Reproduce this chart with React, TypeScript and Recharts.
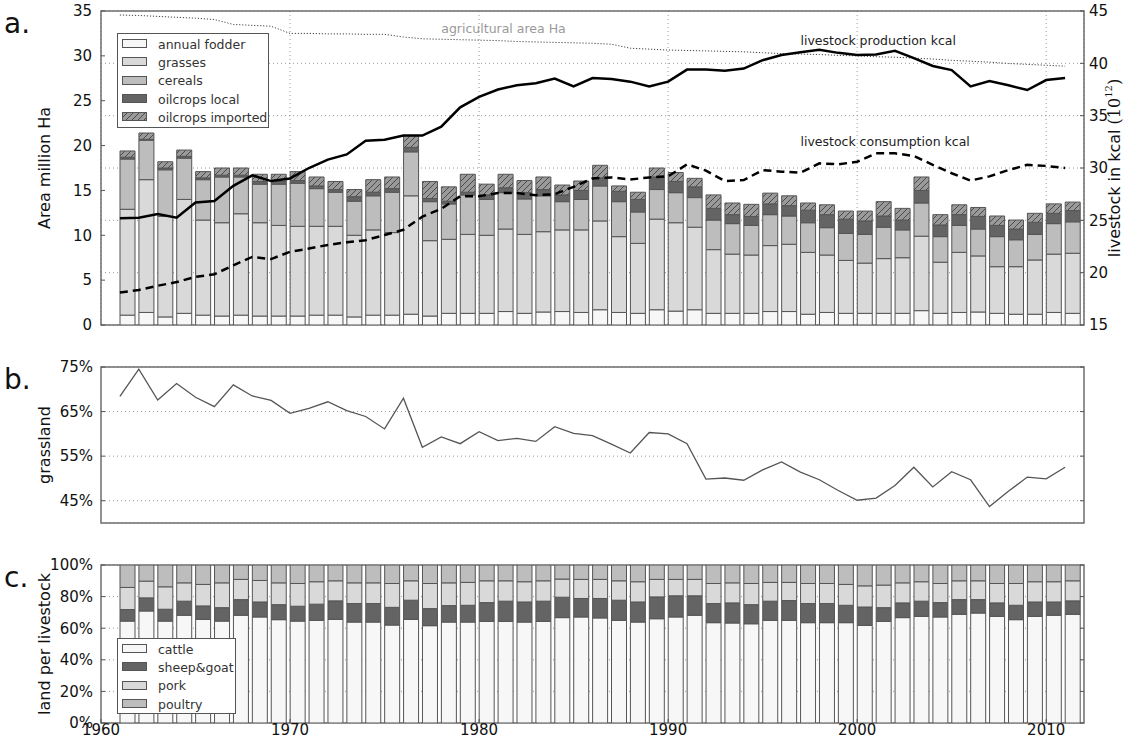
import React from 'react';
import { ComposedChart, Bar, Line, XAxis, YAxis, CartesianGrid, ReferenceArea, ReferenceDot } from 'recharts';

// ---------------- data ----------------
const years = [
  1961, 1962, 1963, 1964, 1965, 1966, 1967, 1968, 1969, 1970,
  1971, 1972, 1973, 1974, 1975, 1976, 1977, 1978, 1979, 1980,
  1981, 1982, 1983, 1984, 1985, 1986, 1987, 1988, 1989, 1990,
  1991, 1992, 1993, 1994, 1995, 1996, 1997, 1998, 1999, 2000,
  2001, 2002, 2003, 2004, 2005, 2006, 2007, 2008, 2009, 2010,
  2011,
];

// panel a (million Ha)
const annualFodder = [
  1.1, 1.4, 0.9, 1.3, 1.1, 1.0, 1.1, 1.0, 1.0, 1.0,
  1.1, 1.1, 0.9, 1.1, 1.1, 1.2, 1.0, 1.3, 1.3, 1.3,
  1.5, 1.3, 1.45, 1.5, 1.4, 1.7, 1.4, 1.3, 1.7, 1.55,
  1.7, 1.3, 1.3, 1.3, 1.5, 1.5, 1.2, 1.4, 1.3, 1.3,
  1.3, 1.3, 1.6, 1.3, 1.4, 1.45, 1.3, 1.2, 1.2, 1.4,
  1.3,
];
const grasses = [
  11.8, 14.8, 11.2, 12.7, 10.6, 10.4, 11.3, 10.4, 10.1, 10.0,
  9.9, 9.9, 9.1, 9.5, 9.2, 13.2, 8.4, 8.25, 8.8, 8.7,
  9.2, 8.8, 8.95, 9.1, 9.2, 9.9, 8.45, 7.8, 10.1, 9.85,
  9.2, 7.1, 6.6, 6.5, 7.35, 7.5, 6.9, 6.4, 5.9, 5.6,
  6.1, 6.2, 8.3, 5.7, 6.7, 6.25, 5.2, 5.3, 6.05, 6.5,
  6.7,
];
const cereals = [
  5.6, 4.4, 5.2, 4.6, 4.5, 5.1, 4.1, 4.3, 4.6, 4.8,
  4.2, 3.8, 3.8, 3.8, 4.5, 4.9, 4.35, 3.95, 4.4, 4.0,
  4.05, 3.95, 4.0, 3.15, 3.4, 3.9, 3.9, 3.5, 3.3, 3.35,
  3.3, 3.3, 3.4, 3.3, 3.45, 3.15, 3.3, 3.05, 3.0, 3.2,
  3.5, 3.1, 3.7, 2.85, 3.0, 3.0, 3.35, 3.0, 2.85, 3.4,
  3.5,
];
const oilcropsLocal = [
  0.2, 0.1, 0.2, 0.2, 0.2, 0.2, 0.2, 0.3, 0.3, 0.3,
  0.3, 0.3, 0.5, 0.4, 0.4, 0.5, 0.35, 0.3, 0.3, 0.5,
  0.55, 0.7, 0.7, 0.75, 1.0, 0.9, 1.15, 1.4, 1.4, 1.25,
  1.2, 1.3, 1.0, 1.0, 1.2, 1.15, 1.4, 1.45, 1.6, 1.5,
  1.25, 1.1, 1.4, 1.3, 1.2, 1.4, 1.25, 1.2, 1.35, 1.15,
  1.25,
];
const oilcropsImported = [
  0.7, 0.7, 0.7, 0.7, 0.7, 0.8, 0.8, 0.8, 0.8, 1.0,
  1.0, 0.9, 0.8, 1.4, 1.3, 1.3, 1.9, 1.6, 2.0, 1.2,
  1.5, 1.35, 1.4, 1.1, 1.05, 1.4, 0.6, 0.8, 1.0, 1.0,
  0.95, 1.5, 1.3, 1.35, 1.2, 1.1, 0.8, 1.1, 0.9, 1.1,
  1.6, 1.3, 1.5, 1.15, 1.1, 1.0, 1.05, 1.0, 1.0, 1.05,
  0.95,
];
const agriculturalArea = [
  34.55, 34.5, 34.4, 34.3, 34.2, 34.05, 33.5, 33.4, 33.3, 32.5,
  32.5, 32.45, 32.45, 32.4, 32.4, 32.1, 31.9, 31.85, 31.8, 31.75,
  31.7, 31.6, 31.55, 31.5, 31.45, 31.4, 31.3, 30.85, 30.75, 30.65,
  30.6, 30.55, 30.5, 30.45, 30.35, 30.25, 30.2, 30.15, 30.05, 30.0,
  29.9, 29.85, 29.75, 29.65, 29.5, 29.4, 29.3, 29.15, 29.05, 28.95,
  28.85,
];
// right axis (10^12 kcal)
const livestockProduction = [
  25.2, 25.25, 25.6, 25.25, 26.7, 26.85, 28.3, 29.3, 28.75, 29.0,
  30.0, 30.8, 31.3, 32.6, 32.7, 33.1, 33.1, 33.95, 35.8, 36.8,
  37.5, 37.9, 38.1, 38.55, 37.8, 38.6, 38.5, 38.25, 37.8, 38.25,
  39.4, 39.4, 39.3, 39.5, 40.3, 40.8, 41.05, 41.3, 41.0, 40.8,
  40.85, 41.2, 40.5, 39.75, 39.35, 37.8, 38.3, 37.9, 37.45, 38.4,
  38.6,
];
const livestockConsumption = [
  18.1, 18.35, 18.75, 19.1, 19.6, 19.85, 20.7, 21.5, 21.3, 22.0,
  22.3, 22.65, 22.9, 23.1, 23.6, 24.1, 25.35, 26.1, 27.3, 27.3,
  27.6, 27.6, 27.4, 27.5, 28.2, 29.0, 29.1, 28.9, 29.1, 29.2,
  30.35, 29.75, 28.75, 28.85, 29.8, 29.65, 29.55, 30.45, 30.35, 30.6,
  31.4, 31.4, 31.15, 30.3, 29.5, 28.8, 29.2, 29.8, 30.3, 30.2,
  30.0,
];

// panel b (%)
const grassland = [
  68.4, 74.5, 67.6, 71.3, 68.2, 66.1, 71.0, 68.5, 67.5, 64.6,
  65.7, 67.2, 65.2, 63.9, 61.1, 68.0, 57.0, 59.3, 57.8, 60.5,
  58.5, 59.0, 58.3, 61.6, 60.1, 59.6, 57.7, 55.7, 60.3, 60.0,
  57.8, 49.85, 50.1, 49.6, 51.9, 53.7, 51.4, 49.7, 47.3, 45.1,
  45.6, 48.4, 52.5, 48.1, 51.5, 49.7, 43.7, 47.1, 50.3, 49.9,
  52.5,
];

// panel c (%)
const cattle = [
  64.5, 70.9, 64.5, 68.2, 65.6, 64.5, 68.2, 67.1, 65.4, 64.5,
  65.0, 65.6, 63.9, 63.9, 62.0, 65.6, 61.6, 63.9, 63.9, 64.3,
  64.3, 63.9, 64.3, 66.7, 67.1, 66.5, 65.0, 63.9, 66.0, 67.1,
  68.2, 63.5, 63.3, 62.8, 65.0, 65.0, 63.5, 63.5, 63.5, 61.8,
  64.3, 66.7, 67.5, 67.1, 68.8, 69.6, 67.5, 65.4, 67.5, 68.2,
  68.8,
];
const sheepGoat = [
  7.3, 8.3, 7.5, 8.9, 8.5, 8.5, 9.9, 9.5, 9.5, 9.4,
  10.2, 11.7, 11.7, 11.7, 11.2, 12.1, 10.8, 10.4, 10.6, 11.9,
  12.8, 12.7, 12.8, 12.9, 11.7, 12.3, 12.7, 12.7, 13.8, 13.4,
  12.3, 12.1, 12.7, 12.1, 12.1, 12.5, 12.1, 12.1, 11.0, 11.6,
  8.7, 9.3, 9.6, 9.1, 9.3, 8.5, 8.5, 9.1, 9.1, 8.4,
  8.5,
];
const pork = [
  14.0, 10.6, 14.2, 11.6, 13.6, 15.7, 12.8, 13.6, 13.8, 14.4,
  14.2, 12.7, 13.1, 13.1, 15.1, 12.3, 15.9, 14.4, 14.5, 13.8,
  12.9, 12.8, 12.9, 11.5, 12.1, 12.1, 12.3, 12.8, 11.1, 10.4,
  10.4, 12.7, 12.7, 13.4, 11.9, 11.5, 12.7, 12.7, 13.2, 13.4,
  14.3, 12.7, 12.3, 12.1, 11.9, 11.9, 12.3, 13.8, 12.8, 12.8,
  12.7,
];
const poultry = [
  14.2, 10.2, 13.8, 11.3, 12.3, 11.3, 9.1, 9.8, 11.3, 11.7,
  10.6, 10.0, 11.3, 11.3, 11.7, 10.0, 11.7, 11.3, 11.0, 10.0,
  10.0, 10.6, 10.0, 8.9, 9.1, 9.1, 10.0, 10.6, 9.1, 9.1,
  9.1, 11.7, 11.3, 11.7, 11.0, 11.0, 11.7, 11.7, 12.3, 13.2,
  12.7, 11.3, 10.6, 11.7, 10.0, 10.0, 11.7, 11.7, 10.6, 10.6,
  10.0,
];

const decadeTicks = [1960, 1970, 1980, 1990, 2000, 2010];
const areaTicks = [0, 5, 10, 15, 20, 25, 30, 35];
const kcalTicks = [15, 20, 25, 30, 35, 40, 45];
const grassTicks = [45, 55, 65, 75];
const shareTicks = [0, 20, 40, 60, 80, 100];

// ---------------- styling ----------------
const FONT = '"DejaVu Sans", sans-serif';
const X_DOMAIN: [number, number] = [1960, 2012];
const BAR_OFFSET = 0.4; // edge-aligned bars of width 0.8
const BAR_SIZE = 15;
const FRAME = '#6e6e6e';
const GRID = '#9a9a9a';
const EDGE = '#555';
const tickStyle = { fontSize: 15, fill: '#111', fontFamily: FONT };
const tickLineStyle = { stroke: '#555' };
const NoTick = () => <g />;

const aSeries = [
  { key: 'annualFodder', name: 'annual fodder', fill: '#f7f7f7' },
  { key: 'grasses', name: 'grasses', fill: '#d9d9d9' },
  { key: 'cereals', name: 'cereals', fill: '#bdbdbd' },
  { key: 'oilLocal', name: 'oilcrops local', fill: '#646464' },
  { key: 'oilImported', name: 'oilcrops imported', fill: 'url(#hatch)' },
];
const cSeries = [
  { key: 'cattle', name: 'cattle', fill: '#f7f7f7' },
  { key: 'sheepGoat', name: 'sheep&goat', fill: '#646464' },
  { key: 'pork', name: 'pork', fill: '#d9d9d9' },
  { key: 'poultry', name: 'poultry', fill: '#bdbdbd' },
];

const panelAData = years.map((year, i) => ({
  year,
  bx: year + BAR_OFFSET,
  annualFodder: annualFodder[i],
  grasses: grasses[i],
  cereals: cereals[i],
  oilLocal: oilcropsLocal[i],
  oilImported: oilcropsImported[i],
  agri: agriculturalArea[i],
  production: livestockProduction[i],
  consumption: livestockConsumption[i],
}));
const panelBData = years.map((year, i) => ({ year, grassland: grassland[i] }));
const panelCData = years.map((year, i) => ({
  year,
  bx: year + BAR_OFFSET,
  cattle: cattle[i],
  sheepGoat: sheepGoat[i],
  pork: pork[i],
  poultry: poultry[i],
}));

const annotation = (text: string, color: string) => (p: any) => (
  <text x={p.cx} y={p.cy} fontSize={12.5} fontFamily={FONT} fill={color} textAnchor="start">
    {text}
  </text>
);

function LegendBox({ items, left, top, width, height }: any) {
  return (
    <div
      style={{
        position: 'absolute', left, top, width, height, boxSizing: 'border-box',
        border: '1px solid #555', background: '#fff', paddingTop: 1,
        fontFamily: FONT, fontSize: 12.5, color: '#333',
      }}
    >
      {items.map((it: any) => (
        <div key={it.key} style={{ height: 18.3, display: 'flex', alignItems: 'center' }}>
          <svg width={26} height={10} style={{ marginLeft: 4, marginRight: 10, flex: 'none' }}>
            <rect x={0.5} y={0.5} width={24} height={8} fill={it.fill} stroke={EDGE} strokeWidth={1} />
          </svg>
          <span style={{ whiteSpace: 'nowrap' }}>{it.name}</span>
        </div>
      ))}
    </div>
  );
}

export default function App() {
  return (
    <div style={{ position: 'absolute', left: 0, top: 0, width: 1128, height: 743, background: '#fff', fontFamily: FONT, overflow: 'hidden' }}>
      <svg width={0} height={0} style={{ position: 'absolute' }}>
        <defs>
          <pattern id="hatch" patternUnits="userSpaceOnUse" width={6} height={6}>
            <rect x={0} y={0} width={6} height={6} fill="#9a9a9a" />
            <path d="M-1,1 L1,-1 M0,6 L6,0 M5,7 L7,5" stroke="#4a4a4a" strokeWidth={1} />
          </pattern>
        </defs>
      </svg>

      {/* panel a */}
      <div style={{ position: 'absolute', left: 0, top: 0 }}>
        <ComposedChart width={1128} height={340} data={panelAData} margin={{ top: 11, right: 0, bottom: 15, left: 0 }} barSize={BAR_SIZE}>
          <CartesianGrid xAxisId="yr" yAxisId="right" stroke={GRID} strokeDasharray="1 3" />
          <XAxis xAxisId="yr" type="number" dataKey="year" domain={X_DOMAIN} ticks={decadeTicks} interval={0} allowDataOverflow height={0} tick={NoTick} axisLine={false} tickLine={false} />
          <XAxis xAxisId="bar" type="number" dataKey="bx" domain={X_DOMAIN} allowDataOverflow hide height={0} />
          <YAxis yAxisId="left" orientation="left" domain={[0, 35]} ticks={areaTicks} interval={0} allowDataOverflow width={101} axisLine={false} tickSize={-4} tickMargin={13} tickLine={tickLineStyle} tick={tickStyle} />
          <YAxis yAxisId="right" orientation="right" domain={[15, 45]} ticks={kcalTicks} interval={0} allowDataOverflow width={44} axisLine={false} tickSize={-4} tickMargin={9} tickLine={tickLineStyle} tick={tickStyle} />
          {aSeries.map((s) => (
            <Bar key={s.key} dataKey={s.key} stackId="a" xAxisId="bar" yAxisId="left" fill={s.fill} stroke={EDGE} strokeWidth={1} barSize={BAR_SIZE} isAnimationActive={false} />
          ))}
          <Line xAxisId="yr" yAxisId="left" dataKey="agri" stroke="#444" strokeWidth={1} strokeDasharray="1.2 1.8" dot={false} isAnimationActive={false} />
          <Line xAxisId="yr" yAxisId="right" dataKey="production" stroke="#000" strokeWidth={2.5} dot={false} isAnimationActive={false} />
          <Line xAxisId="yr" yAxisId="right" dataKey="consumption" stroke="#000" strokeWidth={2.5} strokeDasharray="8 5" dot={false} isAnimationActive={false} />
          <ReferenceArea xAxisId="yr" yAxisId="left" x1={1960} x2={2012} y1={0} y2={35} fill="none" fillOpacity={0} stroke={FRAME} strokeWidth={1.5} ifOverflow="visible" />
          <ReferenceDot xAxisId="yr" yAxisId="left" x={1978} y={32.55} r={0} shape={annotation('agricultural area Ha', '#999')} />
          <ReferenceDot xAxisId="yr" yAxisId="right" x={1997} y={41.75} r={0} shape={annotation('livestock production kcal', '#222')} />
          <ReferenceDot xAxisId="yr" yAxisId="right" x={1997} y={32.1} r={0} shape={annotation('livestock consumption kcal', '#222')} />
        </ComposedChart>
      </div>

      {/* panel b */}
      <div style={{ position: 'absolute', left: 0, top: 350 }}>
        <ComposedChart width={1128} height={190} data={panelBData} margin={{ top: 17, right: 0, bottom: 17, left: 0 }}>
          <CartesianGrid xAxisId="yr" yAxisId="left" vertical={false} stroke={GRID} strokeDasharray="1 3" />
          <XAxis xAxisId="yr" type="number" dataKey="year" domain={X_DOMAIN} ticks={decadeTicks} interval={0} allowDataOverflow height={0} tick={NoTick} axisLine={false} tickLine={false} />
          <YAxis yAxisId="left" orientation="left" domain={[40, 75]} ticks={grassTicks} interval={0} allowDataOverflow width={101} axisLine={false} tickSize={-4} tickMargin={12} tickLine={tickLineStyle} tick={tickStyle} tickFormatter={(v: number) => `${v}%`} />
          <YAxis yAxisId="right" orientation="right" domain={[40, 75]} ticks={grassTicks} interval={0} allowDataOverflow width={44} axisLine={false} tickSize={-4} tickMargin={9} tickLine={tickLineStyle} tick={NoTick} />
          <Line xAxisId="yr" yAxisId="left" dataKey="grassland" stroke="#555" strokeWidth={1.3} dot={false} isAnimationActive={false} />
          <ReferenceArea xAxisId="yr" yAxisId="left" x1={1960} x2={2012} y1={40} y2={75} fill="none" fillOpacity={0} stroke={FRAME} strokeWidth={1.5} ifOverflow="visible" />
        </ComposedChart>
      </div>

      {/* panel c */}
      <div style={{ position: 'absolute', left: 0, top: 550 }}>
        <ComposedChart width={1128} height={193} data={panelCData} margin={{ top: 15, right: 0, bottom: 0, left: 0 }} barSize={BAR_SIZE}>
          <CartesianGrid xAxisId="yr" yAxisId="left" vertical={false} stroke={GRID} strokeDasharray="1 3" />
          <XAxis xAxisId="yr" type="number" dataKey="year" domain={X_DOMAIN} ticks={decadeTicks} interval={0} allowDataOverflow height={20} axisLine={false} tickSize={-4} tickMargin={5} tickLine={tickLineStyle} tick={tickStyle} />
          <XAxis xAxisId="bar" type="number" dataKey="bx" domain={X_DOMAIN} allowDataOverflow hide height={0} />
          <YAxis yAxisId="left" orientation="left" domain={[0, 100]} ticks={shareTicks} interval={0} allowDataOverflow width={101} axisLine={false} tickSize={-4} tickMargin={12} tickLine={tickLineStyle} tick={tickStyle} tickFormatter={(v: number) => `${v}%`} />
          <YAxis yAxisId="right" orientation="right" domain={[0, 100]} ticks={shareTicks} interval={0} allowDataOverflow width={44} axisLine={false} tickSize={-4} tickMargin={9} tickLine={tickLineStyle} tick={NoTick} />
          {cSeries.map((s) => (
            <Bar key={s.key} dataKey={s.key} stackId="c" xAxisId="bar" yAxisId="left" fill={s.fill} stroke={EDGE} strokeWidth={1} barSize={BAR_SIZE} isAnimationActive={false} />
          ))}
          <ReferenceArea xAxisId="yr" yAxisId="left" x1={1960} x2={2012} y1={0} y2={100} fill="none" fillOpacity={0} stroke={FRAME} strokeWidth={1.5} ifOverflow="visible" />
        </ComposedChart>
      </div>

      <LegendBox items={aSeries} left={117} top={33} width={152} height={95} />
      <LegendBox items={cSeries} left={117} top={638} width={119} height={76} />

      <svg width={1128} height={743} style={{ position: 'absolute', left: 0, top: 0, pointerEvents: 'none' }}>
        <g fontFamily={FONT} fill="#111">
          <text x={4} y={33} fontSize={28}>a.</text>
          <text x={4} y={389} fontSize={28}>b.</text>
          <text x={4} y={587} fontSize={28}>c.</text>
          <text x={44} y={168} fontSize={16} textAnchor="middle" dominantBaseline="central" transform="rotate(-90 44 168)">Area million Ha</text>
          <text x={44} y={445} fontSize={16} textAnchor="middle" dominantBaseline="central" transform="rotate(-90 44 445)">grassland</text>
          <text x={44} y={644} fontSize={16} textAnchor="middle" dominantBaseline="central" transform="rotate(-90 44 644)">land per livestock</text>
          <text x={1114} y={168} fontSize={16} textAnchor="middle" dominantBaseline="central" transform="rotate(-90 1114 168)">
            livestock in kcal <tspan fontFamily='"DejaVu Serif", serif'>(10</tspan><tspan fontFamily='"DejaVu Serif", serif' fontSize={10} dy={-6}>12</tspan><tspan fontFamily='"DejaVu Serif", serif' dy={6}>)</tspan>
          </text>
        </g>
      </svg>
    </div>
  );
}
